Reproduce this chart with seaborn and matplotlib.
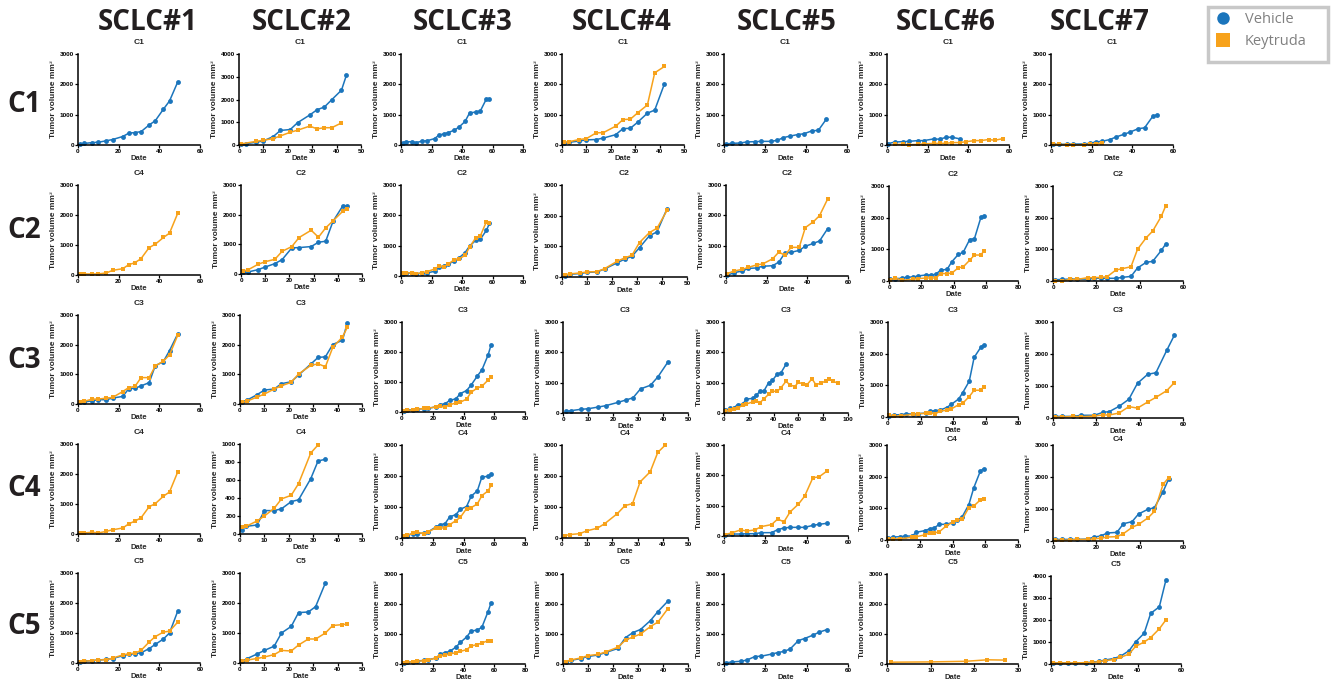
import numpy as np
import pandas as pd
import matplotlib
matplotlib.use("Agg")
import matplotlib.pyplot as plt
from matplotlib.lines import Line2D
from matplotlib.patches import Rectangle
import seaborn as sns

sns.set_theme(style="white")
plt.rcParams["font.family"] = ["Liberation Sans", "DejaVu Sans"]

# ---------------- data ----------------
models = ["SCLC#1", "SCLC#2", "SCLC#3", "SCLC#4", "SCLC#5", "SCLC#6", "SCLC#7"]
rows = ["C1", "C2", "C3", "C4", "C5"]
groups = ["Vehicle", "Keytruda"]

# Row C1
p11_x = [1, 3, 7, 10, 14, 17, 22, 25, 28, 31, 35, 38, 42, 45, 49]
p11_veh = [30, 50, 80, 90, 140, 180, 280, 390, 410, 440, 660, 800, 1180, 1450, 2070]
p12_vx = [1, 3, 7, 10, 14, 17, 21, 24, 29, 32, 35, 38, 42, 44]
p12_veh = [30, 60, 120, 180, 370, 640, 680, 980, 1320, 1550, 1670, 1990, 2410, 3060]
p12_kx = [1, 7, 10, 14, 17, 21, 24, 29, 32, 35, 38, 42]
p12_key = [50, 160, 210, 280, 400, 560, 650, 830, 710, 760, 760, 970]
p13_x = [1, 3, 7, 10, 14, 17, 22, 25, 28, 31, 35, 38, 42, 45, 49, 52, 56, 58]
p13_veh = [55, 100, 110, 80, 130, 140, 210, 330, 365, 410, 490, 590, 775, 1060, 1085, 1120, 1520, 1520]
p14_x = [1, 3, 7, 10, 14, 17, 22, 25, 28, 31, 35, 38, 42]
p14_veh = [80, 90, 130, 170, 180, 230, 340, 540, 550, 750, 1050, 1150, 2020]
p14_key = [90, 110, 180, 210, 400, 410, 620, 840, 850, 1060, 1320, 2380, 2590]
p15_x = [1, 4, 8, 11, 15, 18, 23, 26, 29, 32, 36, 39, 43, 46, 50]
p15_veh = [35, 55, 65, 100, 110, 120, 120, 155, 245, 290, 345, 370, 470, 480, 860]
p16_vx = [0.5, 4, 8, 11, 15, 18, 23, 26, 29, 32, 36]
p16_veh = [45, 100, 110, 120, 145, 145, 200, 190, 255, 255, 200]
p16_kx = [4, 8, 11, 15, 18, 23, 26, 29, 32, 36, 39, 43, 46, 50, 53, 57]
p16_key = [20, 20, 10, 20, 35, 55, 55, 55, 80, 80, 110, 145, 145, 180, 155, 210]
p17_vx = [1, 4, 8, 11, 16, 19, 22, 25, 29, 32, 36, 39, 43, 46, 50, 52]
p17_veh = [20, 20, 25, 30, 35, 55, 100, 120, 180, 265, 355, 430, 540, 565, 940, 1000]
p17_kx = [1, 4, 8, 11, 16, 19, 22, 25]
p17_key = [20, 20, 10, 10, 10, 25, 40, 70]

# Row C2
p21_x = [1, 3, 7, 10, 14, 17, 22, 25, 28, 31, 35, 38, 42, 45, 49]
p21_key = [35, 35, 35, 35, 70, 155, 210, 345, 410, 545, 915, 1025, 1250, 1395, 2050]
p22_x = [1, 3, 7, 10, 14, 17, 21, 24, 29, 32, 35, 38, 42, 44]
p22_veh = [55, 70, 145, 235, 350, 485, 880, 890, 925, 1070, 1105, 1770, 2290, 2290]
p22_key = [100, 145, 325, 415, 495, 765, 925, 1230, 1475, 1240, 1555, 1790, 2110, 2200]
p23_x = [1, 3, 7, 10, 14, 17, 22, 25, 28, 31, 35, 38, 42, 45, 49, 52, 56, 58]
p23_veh = [55, 90, 100, 75, 90, 100, 155, 285, 340, 395, 495, 595, 770, 990, 1175, 1210, 1505, 1735]
p23_key = [90, 110, 100, 75, 110, 140, 230, 320, 310, 395, 540, 560, 680, 955, 1260, 1320, 1790, 1750]
p24_x = [1, 3, 7, 10, 14, 17, 22, 25, 28, 31, 35, 38, 42]
p24_veh = [45, 90, 110, 150, 165, 260, 460, 580, 675, 960, 1350, 1470, 2225]
p24_key = [75, 100, 130, 165, 175, 270, 510, 620, 710, 1125, 1450, 1590, 2170]
p25_x = [0.5, 4, 8, 11, 15, 18, 23, 26, 29, 32, 36, 39, 43, 46, 50]
p25_veh = [20, 110, 165, 250, 265, 320, 340, 460, 760, 780, 845, 980, 1075, 1155, 1560]
p25_key = [75, 165, 220, 285, 365, 395, 570, 790, 680, 945, 945, 1595, 1790, 1990, 2540]
p26_vx = [0.6, 4, 8, 11, 15, 18, 23, 26, 29, 32, 36, 39, 43, 46, 50, 53, 57, 59]
p26_veh = [65, 75, 85, 125, 125, 160, 190, 190, 210, 345, 365, 610, 840, 905, 1305, 1340, 2010, 2050]
p26_kx = [0.6, 4, 8, 15, 18, 23, 26, 29, 32, 36, 39, 43, 46, 50, 53, 57, 59]
p26_key = [40, 95, 20, 60, 75, 95, 95, 95, 235, 235, 250, 420, 445, 655, 820, 820, 960]
p27_x = [1, 4, 8, 11, 16, 19, 22, 25, 29, 32, 36, 39, 43, 46, 50, 52]
p27_veh = [40, 50, 60, 60, 60, 85, 85, 85, 85, 115, 145, 410, 590, 620, 965, 1165]
p27_key = [0, 0, 50, 50, 105, 105, 115, 135, 345, 390, 450, 1000, 1365, 1575, 2045, 2370]

# Row C3
p31_x = [1, 3, 7, 10, 14, 17, 22, 25, 28, 31, 35, 38, 42, 45, 49]
p31_veh = [55, 65, 110, 145, 145, 200, 255, 520, 530, 610, 720, 1290, 1430, 1800, 2355]
p31_key = [55, 90, 165, 165, 200, 220, 420, 555, 590, 890, 890, 1280, 1445, 1655, 2310]
p32_x = [1, 3, 7, 10, 14, 17, 21, 24, 29, 32, 35, 38, 42, 44]
p32_veh = [80, 135, 315, 470, 505, 685, 750, 975, 1345, 1570, 1590, 2005, 2150, 2745]
p32_key = [65, 100, 235, 335, 505, 615, 730, 1010, 1300, 1355, 1255, 1905, 2260, 2585]
p33_x = [1, 3, 7, 10, 14, 17, 22, 25, 28, 31, 35, 38, 42, 45, 49, 52, 56, 58]
p33_veh = [45, 55, 75, 100, 110, 120, 175, 250, 275, 385, 440, 615, 715, 900, 1200, 1405, 1900, 2250]
p33_key = [45, 55, 65, 90, 120, 130, 165, 185, 165, 240, 300, 330, 430, 660, 800, 860, 1065, 1165]
p34_x = [1, 3, 7, 10, 14, 17, 22, 25, 28, 31, 35, 38, 42]
p34_veh = [55, 75, 120, 140, 195, 240, 350, 425, 500, 795, 915, 1195, 1685]
p35_vx = [1, 5, 8, 11, 15, 18, 23, 26, 29, 32, 36, 39, 43, 46, 50]
p35_veh = [90, 155, 175, 275, 285, 460, 480, 580, 715, 715, 1000, 1075, 1285, 1330, 1605]
p35_kx = [1, 5, 8, 11, 15, 18, 23, 26, 29, 32, 36, 39, 43, 46, 50, 53, 57, 60, 64, 67, 71, 74, 78, 82, 85, 88, 92]
p35_key = [55, 110, 145, 165, 255, 295, 365, 405, 340, 460, 615, 715, 715, 835, 1045, 935, 870, 1010,
           955, 935, 1130, 935, 980, 1055, 1110, 1045, 980]
p36_vx = [0.7, 3.5, 8, 11, 15.5, 18.5, 23.5, 26, 29, 32, 36, 39, 43.5, 46, 50, 53, 57, 59]
p36_veh = [40, 65, 75, 95, 95, 105, 125, 190, 200, 220, 295, 400, 570, 770, 1130, 1880, 2195, 2280]
p36_kx = [0.7, 3.5, 8, 15.5, 18.5, 23.5, 26, 29, 32, 36, 39, 43.5, 46, 50, 53, 57, 59]
p36_key = [50, 20, 40, 85, 105, 115, 135, 95, 190, 210, 255, 390, 435, 645, 845, 845, 960]
p37_x = [1, 4, 9, 13, 19, 23, 26, 30.5, 35, 39, 43.7, 47.5, 52.5, 56]
p37_veh = [50, 50, 50, 85, 85, 175, 200, 365, 585, 1085, 1365, 1415, 2115, 2585]
p37_key = [30, 30, 50, 40, 60, 95, 95, 155, 355, 310, 500, 645, 855, 1105]

# Row C4
p41_x = [1, 3, 7, 10, 14, 17, 22, 25, 28, 31, 35, 38, 42, 45, 49]
p41_key = [35, 35, 60, 35, 90, 140, 200, 340, 430, 540, 910, 1010, 1260, 1400, 2060]
p42_vx = [0.7, 2.5, 7, 10, 14, 17, 21, 24, 29, 32, 35]
p42_veh = [48, 85, 100, 260, 260, 280, 360, 380, 615, 812, 830]
p42_kx = [0.7, 2.5, 7, 10, 14, 17, 21, 24, 29, 32]
p42_key = [75, 85, 145, 200, 285, 390, 430, 560, 900, 990]
p43_x = [1, 3, 7, 10, 14, 17, 22, 25, 28, 31, 35, 38, 42, 45, 49, 52, 56, 58]
p43_veh = [55, 75, 140, 140, 160, 195, 355, 430, 465, 680, 755, 930, 1015, 1350, 1520, 1975, 1985, 2060]
p43_key = [65, 85, 150, 185, 140, 195, 325, 325, 325, 430, 560, 670, 950, 980, 1100, 1370, 1520, 1705]
p44_x = [1, 3, 7, 10, 14, 17, 22, 25, 28, 31, 35, 38, 41]
p44_key = [75, 110, 140, 235, 315, 465, 790, 1045, 1110, 1810, 2135, 2760, 3000]
p45_x = [0.6, 4, 8, 11, 15, 18, 23, 26, 29, 32, 36, 39, 43, 46, 50]
p45_veh = [45, 65, 65, 75, 75, 110, 110, 210, 265, 285, 285, 285, 350, 385, 420]
p45_key = [45, 110, 200, 165, 200, 310, 375, 560, 465, 795, 1050, 1310, 1920, 1950, 2150]
p46_vx = [0.7, 3.7, 8, 11, 15.3, 18, 23, 26, 29, 32, 36, 40, 43, 46, 50, 53, 57, 59]
p46_veh = [55, 95, 105, 125, 125, 245, 295, 350, 390, 495, 495, 550, 625, 740, 1120, 1650, 2175, 2250]
p46_kx = [0.7, 3.7, 8, 15.3, 18, 23, 26, 29, 32, 36, 40, 43, 46, 50, 53, 57, 59]
p46_key = [20, 30, 40, 85, 105, 160, 220, 220, 265, 435, 560, 635, 655, 1025, 1075, 1265, 1310]
p47_x = [0.8, 4, 8, 11, 16, 19, 22, 25, 29.5, 32.5, 36.5, 39.5, 43.8, 46.8, 50.8, 53.4]
p47_veh = [50, 50, 50, 50, 60, 125, 155, 250, 270, 540, 605, 845, 990, 1040, 1540, 1940]
p47_key = [30, 20, 30, 50, 50, 70, 85, 125, 135, 230, 425, 520, 720, 925, 1770, 1980]

# Row C5
p51_x = [1, 3, 7, 10, 14, 17, 22, 25, 28, 31, 35, 38, 42, 45, 49]
p51_veh = [40, 60, 80, 100, 120, 150, 240, 290, 310, 340, 480, 620, 800, 1000, 1720]
p51_key = [40, 60, 80, 100, 110, 160, 270, 310, 330, 420, 700, 880, 1030, 1060, 1360]
p52_vx = [1, 3, 7, 10, 14, 17, 21, 24, 28, 31, 35]
p52_veh = [60, 150, 300, 420, 560, 1000, 1220, 1680, 1700, 1880, 2670]
p52_kx = [1, 3, 7, 10, 14, 17, 21, 24, 28, 31, 35, 38, 42, 44]
p52_key = [60, 100, 150, 200, 280, 420, 400, 600, 800, 800, 1000, 1250, 1280, 1300]
p53_x = [1, 3, 7, 10, 14, 17, 22, 25, 28, 31, 35, 38, 42, 45, 49, 52, 56, 58]
p53_veh = [45, 60, 80, 100, 120, 140, 200, 330, 380, 420, 560, 720, 900, 1100, 1130, 1230, 1750, 2050]
p53_key = [45, 60, 80, 90, 110, 130, 200, 270, 300, 330, 380, 420, 480, 600, 650, 700, 780, 780]
p54_x = [1, 3, 7, 10, 14, 17, 22, 25, 28, 31, 35, 38, 42]
p54_veh = [80, 120, 180, 250, 300, 380, 520, 880, 1050, 1150, 1450, 1750, 2100]
p54_key = [80, 130, 200, 280, 320, 400, 560, 800, 900, 1000, 1250, 1400, 1850]
p55_x = [1, 4, 8, 11, 15, 18, 23, 26, 29, 32, 36, 39, 43, 46, 50]
p55_veh = [40, 70, 90, 130, 250, 260, 330, 380, 420, 500, 780, 850, 960, 1060, 1150]
p56_x = [1, 10, 18, 23, 27]
p56_key = [60, 70, 90, 140, 130]
p57_x = [1, 4, 8, 11, 16, 19, 22, 25, 29, 32, 36, 39, 43, 46, 50, 53]
p57_veh = [50, 50, 50, 50, 60, 80, 120, 180, 250, 350, 600, 1000, 1400, 2300, 2600, 3800]
p57_key = [50, 50, 50, 50, 60, 70, 100, 150, 200, 300, 450, 800, 1000, 1200, 1600, 2000]

panel_titles = [
    ["C1"] * 7,
    ["C4"] + ["C2"] * 6,
    ["C3"] * 7,
    ["C4"] * 7,
    ["C5"] * 7,
]
x_max = [
    [60, 50, 80, 50, 60, 60, 60],
    [60, 50, 80, 50, 60, 80, 60],
    [60, 50, 80, 50, 100, 80, 60],
    [60, 50, 80, 50, 60, 80, 60],
    [60, 50, 80, 50, 60, 30, 60],
]
y_max = [
    [3000, 4000, 3000, 3000, 3000, 3000, 3000],
    [3000] * 7,
    [3000] * 7,
    [3000, 1000, 3000, 3000, 3000, 3000, 3000],
    [3000, 3000, 3000, 3000, 3000, 3000, 4000],
]

# (vehicle days, vehicle values, keytruda days, keytruda values)
series = [
    [(p11_x, p11_veh, None, None), (p12_vx, p12_veh, p12_kx, p12_key), (p13_x, p13_veh, None, None),
     (p14_x, p14_veh, p14_x, p14_key), (p15_x, p15_veh, None, None), (p16_vx, p16_veh, p16_kx, p16_key),
     (p17_vx, p17_veh, p17_kx, p17_key)],
    [(None, None, p21_x, p21_key), (p22_x, p22_veh, p22_x, p22_key), (p23_x, p23_veh, p23_x, p23_key),
     (p24_x, p24_veh, p24_x, p24_key), (p25_x, p25_veh, p25_x, p25_key), (p26_vx, p26_veh, p26_kx, p26_key),
     (p27_x, p27_veh, p27_x, p27_key)],
    [(p31_x, p31_veh, p31_x, p31_key), (p32_x, p32_veh, p32_x, p32_key), (p33_x, p33_veh, p33_x, p33_key),
     (p34_x, p34_veh, None, None), (p35_vx, p35_veh, p35_kx, p35_key), (p36_vx, p36_veh, p36_kx, p36_key),
     (p37_x, p37_veh, p37_x, p37_key)],
    [(None, None, p41_x, p41_key), (p42_vx, p42_veh, p42_kx, p42_key), (p43_x, p43_veh, p43_x, p43_key),
     (None, None, p44_x, p44_key), (p45_x, p45_veh, p45_x, p45_key), (p46_vx, p46_veh, p46_kx, p46_key),
     (p47_x, p47_veh, p47_x, p47_key)],
    [(p51_x, p51_veh, p51_x, p51_key), (p52_vx, p52_veh, p52_kx, p52_key), (p53_x, p53_veh, p53_x, p53_key),
     (p54_x, p54_veh, p54_x, p54_key), (p55_x, p55_veh, None, None), (None, None, p56_x, p56_key),
     (p57_x, p57_veh, p57_x, p57_key)],
]

# ---------------- layout (pixels) ----------------
W, H = 1333, 683
lefts = [
    [78, 239, 401, 562, 724, 887, 1051],
    [78, 241, 401, 562, 726, 889, 1053],
    [78, 240, 402, 563, 724, 888, 1053],
    [78, 240, 402, 562, 724, 887, 1053],
    [78, 240, 402, 563, 724, 887, 1051],
]
rights = [
    [200, 361, 523, 684, 847, 1009, 1173],
    [200, 362, 523, 687, 848, 1018, 1183],
    [200, 362, 525, 688, 848, 1018, 1183],
    [200, 362, 525, 688, 848, 1018, 1183],
    [200, 362, 525, 688, 848, 1018, 1181],
]
tops = [
    [54] * 7,
    [185, 185, 185, 185, 185, 186, 186],
    [315, 315, 322, 322, 322, 322, 322],
    [444, 444, 445, 445, 445, 445, 445],
    [573, 573, 574, 574, 574, 574, 576],
]
bottoms = [
    [145] * 7,
    [275, 274, 276, 277, 276, 281, 281],
    [404, 404, 412, 413, 413, 417, 418],
    [534, 534, 538, 538, 536, 540, 541],
    [663, 663, 664, 664, 664, 664, 664],
]
title_pads = [
    [7] * 7,
    [7] * 7,
    [7] * 7,
    [7, 7, 7, 7, 7, 3, 3],
    [7] * 7,
]
header_x = [148, 302, 463, 622, 787, 946, 1100]
row_label_y = [104, 231, 360, 488, 626]

BLUE = "#1b75bc"
ORANGE = "#f7a21b"
palette = {"Vehicle": BLUE, "Keytruda": ORANGE}
markers = {"Vehicle": "o", "Keytruda": "s"}

fig = plt.figure(figsize=(W / 100, H / 100), dpi=100)

for r in range(5):
    for c in range(7):
        l, rr, t, b = lefts[r][c], rights[r][c], tops[r][c], bottoms[r][c]
        ax = fig.add_axes([l / W, 1 - b / H, (rr - l) / W, (b - t) / H])
        vx, vy, kx, ky = series[r][c]
        frames = []
        if vy is not None:
            frames.append(pd.DataFrame({"Date": vx, "Volume": vy, "Group": "Vehicle"}))
        if ky is not None:
            frames.append(pd.DataFrame({"Date": kx, "Volume": ky, "Group": "Keytruda"}))
        df = pd.concat(frames, ignore_index=True)
        order = [g for g in groups if g in set(df["Group"])]
        sns.lineplot(data=df, x="Date", y="Volume", hue="Group", style="Group",
                     hue_order=order, style_order=order,
                     palette={g: palette[g] for g in order},
                     markers={g: markers[g] for g in order}, dashes=False,
                     estimator=None, sort=False, legend=False, ax=ax,
                     linewidth=1.1, markersize=3.5, markeredgewidth=0, clip_on=False)
        xm, ym = x_max[r][c], y_max[r][c]
        ax.set_xlim(0, xm)
        ax.set_ylim(0, ym)
        xstep = 20 if xm in (60, 80, 100) else 10
        ax.set_xticks(np.arange(0, xm + 1, xstep))
        ax.set_yticks(np.arange(0, ym + 1, 200 if ym == 1000 else 1000))
        ax.tick_params(axis="both", direction="out", length=2, width=0.9, pad=1,
                       labelsize=4.6, colors="black", bottom=True, left=True)
        for lbl in ax.get_xticklabels() + ax.get_yticklabels():
            lbl.set_fontweight("bold")
        sns.despine(ax=ax)
        for s in ("left", "bottom"):
            ax.spines[s].set_color("black")
            ax.spines[s].set_linewidth(1.1)
        ax.grid(False)
        ax.set_title(panel_titles[r][c], fontsize=6, fontweight="bold", pad=title_pads[r][c])
        ax.set_ylabel("Tumor volume mm³", fontsize=6, fontweight="bold", labelpad=2)
        ax.set_xlabel("Date", fontsize=5.5, fontweight="bold", labelpad=0.5)

for name, xc in zip(models, header_x):
    fig.text(xc / W, 1 - 22 / H, name, ha="center", va="center", fontsize=20,
             fontweight="bold", family=["Open Sans", "DejaVu Sans"], color="#231f20")
for name, yc in zip(rows, row_label_y):
    fig.text(24 / W, 1 - yc / H, name, ha="center", va="center", fontsize=20,
             fontweight="bold", family=["Open Sans", "DejaVu Sans"], color="#231f20")

# legend with a box drawn to the reference's size
fig.patches.append(Rectangle((1208 / W, 1 - 62 / H), 120 / W, 55 / H, transform=fig.transFigure,
                             fill=False, edgecolor="#c8c8c8", linewidth=2.5))
handles = [
    Line2D([], [], linestyle="none", marker="o", markersize=9, color=BLUE, markeredgewidth=0),
    Line2D([], [], linestyle="none", marker="s", markersize=9.5, color=ORANGE, markeredgewidth=0),
]
leg = fig.legend(handles, groups, loc="upper left", bbox_to_anchor=(1213 / W, 1 - 9 / H),
                 frameon=False, handlelength=1.0, handletextpad=1.0, borderpad=0.2,
                 labelspacing=0.5, borderaxespad=0,
                 prop={"family": ["Open Sans", "DejaVu Sans"], "size": 10.5})
for t in leg.get_texts():
    t.set_color("#808080")

fig.savefig("out.png", dpi=100)
